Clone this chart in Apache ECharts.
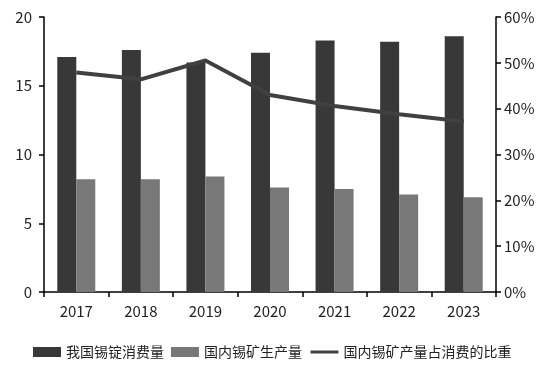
<!DOCTYPE html>
<html><head><meta charset="utf-8">
<script src="https://cdn.jsdelivr.net/npm/echarts@6/dist/echarts.min.js"></script>
<style>html,body{margin:0;padding:0;background:#fff}#c{width:556px;height:376px}</style>
</head><body><div id="c"></div>
<script>
var categories = ['2017','2018','2019','2020','2021','2022','2023'];
var consumption = [17.1, 17.6, 16.7, 17.4, 18.3, 18.2, 18.6];
var mineOutput = [8.2, 8.2, 8.4, 7.6, 7.5, 7.1, 6.9];
var shareRatio = [47.9, 46.4, 50.5, 43.0, 40.6, 38.8, 37.2];
var names = ['我国锡锭消费量','国内锡矿生产量','国内锡矿产量占消费的比重'];

var font = '"Noto Sans CJK SC", sans-serif';
var axisLine = {show:true, lineStyle:{color:'#000', width:1.5}};
var chart = echarts.init(document.getElementById('c'));
chart.setOption({
  animation:false,
  grid:{left:44, right:60, top:17, bottom:84},
  legend:{
    bottom:12, left:28, itemGap:7, itemWidth:28, itemHeight:10,
    textStyle:{fontFamily:font, fontSize:14, color:'#222'},
    data:[
      {name:names[0], icon:'rect'},
      {name:names[1], icon:'rect'},
      {name:names[2], itemStyle:{opacity:0}, lineStyle:{width:3}}
    ]
  },
  xAxis:{
    type:'category', data:categories,
    axisLine:axisLine,
    axisTick:{show:true, length:5, lineStyle:{color:'#000', width:1.5}},
    axisLabel:{fontFamily:font, fontSize:15, color:'#222', margin:12}
  },
  yAxis:[{
    type:'value', min:0, max:20, interval:5,
    axisLine:axisLine,
    axisTick:{show:true, length:5, lineStyle:{color:'#000', width:1.5}},
    splitLine:{show:false},
    axisLabel:{fontFamily:font, fontSize:15, color:'#222', margin:12}
  },{
    type:'value', min:0, max:60, interval:10,
    axisLine:axisLine,
    axisTick:{show:true, length:5, lineStyle:{color:'#000', width:1.5}},
    splitLine:{show:false},
    axisLabel:{fontFamily:font, fontSize:15, color:'#222', margin:8, formatter:'{value}%'}
  }],
  series:[
    {name:names[0], type:'bar', data:consumption, barWidth:19, barGap:'0%', itemStyle:{color:'#383838'}},
    {name:names[1], type:'bar', data:mineOutput, barWidth:19, barGap:'0%', itemStyle:{color:'#787878'}},
    {name:names[2], type:'line', yAxisIndex:1, data:shareRatio, symbol:'none', lineStyle:{color:'#404040', width:4}, itemStyle:{color:'#404040'}}
  ]
});
</script></body></html>
